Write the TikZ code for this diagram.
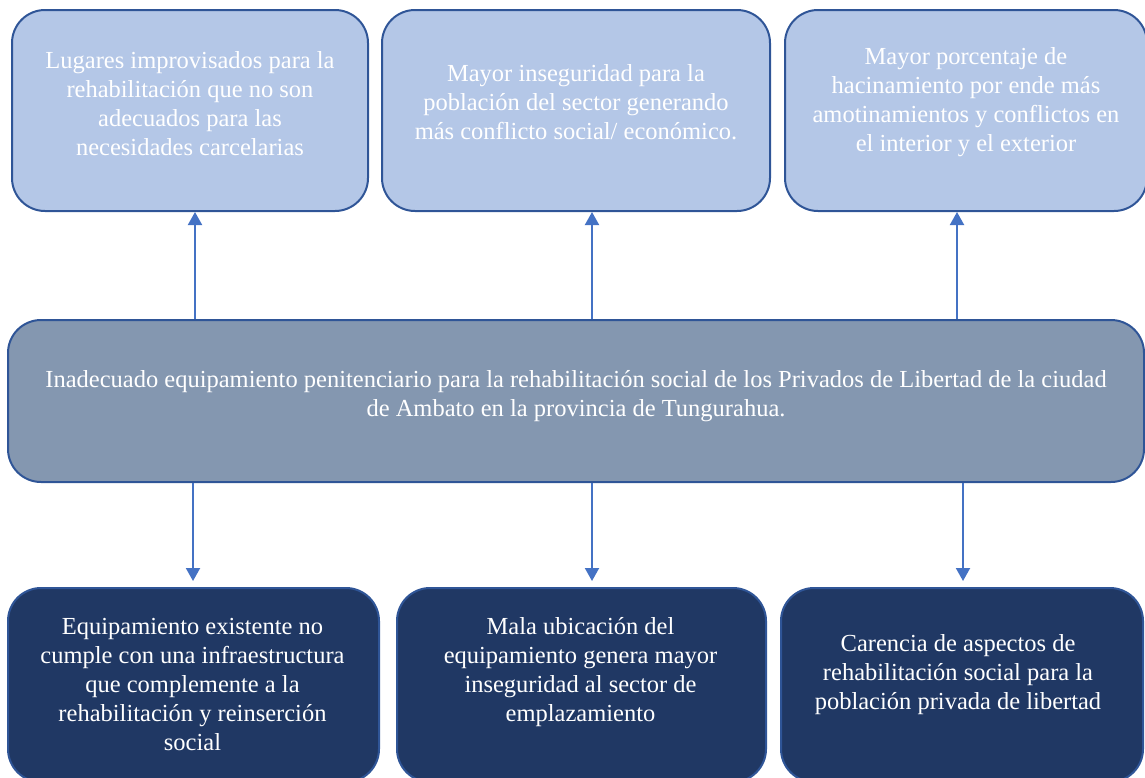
\documentclass[tikz,border=0pt]{standalone}
\usepackage{fontspec}
\setmainfont{Liberation Serif}
\usetikzlibrary{arrows.meta}
\definecolor{efecto}{HTML}{B4C7E7}
\definecolor{problema}{HTML}{8497B0}
\definecolor{causa}{HTML}{203864}
\definecolor{borde}{HTML}{2F5597}
\definecolor{flecha}{HTML}{4472C4}
\tikzset{
  caja/.style={draw=borde, line width=2pt, rounded corners=33pt, inner sep=0pt},
  efectobox/.style={caja, fill=efecto, minimum height=201pt},
  causabox/.style={caja, fill=causa, minimum height=194pt},
  txt/.style={text=white, align=center, inner sep=0pt, font=\fontsize{24.5}{29}\selectfont},
  arr/.style={draw=flecha, line width=2pt, -{Triangle[width=14pt,length=13pt]}}
}
\begin{document}
\begin{tikzpicture}[x=1pt,y=-1pt]
            \useasboundingbox (0,0) rectangle (1145,777);
            \clip (0,0) rectangle (1145,777);
            % efectos
            \node[efectobox, minimum width=356pt] (e1) at (190,110.5) {};
            \node[efectobox, minimum width=388pt] (e2) at (576,110.5) {};
            \node[efectobox, minimum width=362pt] (e3) at (966,110.5) {};
            \node[txt] (te1) at (190,104) {Lugares improvisados para la\\rehabilitación que no son\\adecuados para las\\necesidades carcelarias};
            \node[txt] (te2) at (576,102) {Mayor inseguridad para la\\población del sector generando\\más conflicto social/ económico.};
            \node[txt] (te3) at (966,102) {Mayor porcentaje de\\hacinamiento por ende más\\amotinamientos y conflictos en\\el interior y el exterior};
            % problema central
            \node[caja, fill=problema, minimum width=1136pt, minimum height=162pt] (pb) at (576,401) {};
            \node[txt] (tpb) at (576,396) {Inadecuado equipamiento penitenciario para la rehabilitación social de los Privados de Libertad de la ciudad\\de Ambato en la provincia de Tungurahua.};
            % causas
            \node[causabox, minimum width=371pt] (c1) at (193.5,685) {};
            \node[causabox, minimum width=369pt] (c2) at (581.5,685) {};
            \node[causabox, minimum width=362pt] (c3) at (962,685) {};
            \node[txt] (tc1) at (192.5,684) {Equipamiento existente no\\cumple con una infraestructura\\que complemente a la\\rehabilitación y reinserción\\social};
            \node[txt] (tc2) at (580.5,672) {Mala ubicación del\\equipamiento genera mayor\\inseguridad al sector de\\emplazamiento};
            \node[txt] (tc3) at (958,675) {Carencia de aspectos de\\rehabilitación social para la\\población privada de libertad};
            % flechas
            \coordinate (u1) at (195,0);
            \coordinate (u2) at (592,0);
            \coordinate (u3) at (957,0);
            \coordinate (d1) at (193,0);
            \coordinate (d2) at (592,0);
            \coordinate (d3) at (963,0);
            \draw[arr] (pb.north -| u1) -- (e1.south -| u1);
            \draw[arr] (pb.north -| u2) -- (e2.south -| u2);
            \draw[arr] (pb.north -| u3) -- (e3.south -| u3);
            \draw[arr, shorten >=6pt] (pb.south -| d1) -- (c1.north -| d1);
            \draw[arr, shorten >=6pt] (pb.south -| d2) -- (c2.north -| d2);
            \draw[arr, shorten >=6pt] (pb.south -| d3) -- (c3.north -| d3);
        \end{tikzpicture}
\end{document}
